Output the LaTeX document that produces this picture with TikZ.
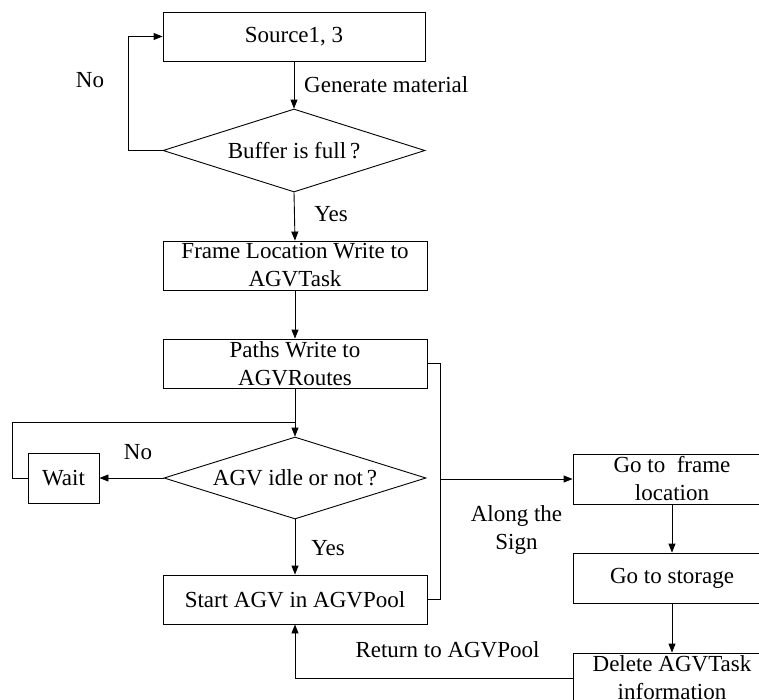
\documentclass[tikz,border=0pt]{standalone}
\usepackage{fontspec}
\setmainfont{Liberation Serif}
\usetikzlibrary{shapes.geometric,arrows.meta,calc}
\begin{document}
\begin{tikzpicture}[x=1pt,y=-1pt,
  every node/.style={font=\fontsize{23}{28}\selectfont},
  box/.style={draw,rectangle,inner sep=0pt,align=center,line width=0.9pt},
  dec/.style={draw,diamond,inner sep=0pt,shape aspect=3.16,line width=0.9pt},
  conn/.style={line width=0.9pt},
  arr/.style={conn,-{Triangle[length=9pt,width=7pt]}},
  lab/.style={inner sep=0pt,align=center}]
\useasboundingbox (0,0) rectangle (759,699);
\node[box,minimum width=262pt,minimum height=49pt] (src) at (294,36.5) {Source1, 3};
\node[dec,minimum width=262pt,minimum height=83pt] (buf) at (294,150.5) {Buffer is full\,?};
\node[box,minimum width=264pt,minimum height=49pt] (frame) at (295,265.5) {Frame Location Write to\\AGVTask};
\node[box,minimum width=264pt,minimum height=49pt] (paths) at (295,363.5) {Paths Write to\\AGVRoutes};
\node[dec,minimum width=262pt,minimum height=82pt] (agv) at (295,478) {AGV idle or not\,?};
\node[box,minimum width=71pt,minimum height=50pt] (wait) at (63.5,478) {Wait};
\node[box,minimum width=264pt,minimum height=49pt] (start) at (295,599.5) {Start AGV in AGVPool};
\node[box,minimum width=198pt,minimum height=50pt] (goto) at (672,479) {Go to\ \ frame\\location};
\node[box,minimum width=198pt,minimum height=50pt] (stor) at (672,578) {Go to storage};
\node[box,minimum width=198pt,minimum height=50pt] (del) at (672,678) {Delete AGVTask\\information};

\draw[arr] (src.south) -- (buf.north);
\draw[arr] (buf.west) -- ++(-34,0) |- (src.west);
\draw[arr] (buf.south) -- (frame.north);
\draw[arr] (frame.south) -- (paths.north);
\draw[arr] (paths.south) -- (agv.north);
\draw[arr] (agv.west) -- (wait.east);
\draw[conn] (wait.west) -- ++(-15,0) |- ($(agv.north)+(0,-14)$);
\draw[arr] (agv.south) -- (start.north);
\draw[conn] (paths.east) -- ++(13,0) coordinate (bustop) |- (start.east);
\coordinate (bus) at (bustop |- goto.west);
\draw[arr] (bus) -- (goto.west);
\draw[arr] (goto.south) -- (stor.north);
\draw[arr] (stor.south) -- (del.north);
\draw[arr] (del.west) -| (start.south);

\node[lab,anchor=west] (lgen) at (304,85) {Generate material};
\node[lab] (lno1) at (90,80) {No};
\node[lab] (lyes1) at (331,214) {Yes};
\node[lab] (lno2) at (138,452) {No};
\node[lab] (lyes2) at (328,548) {Yes};
\node[lab] (lalong) at (516.5,530) {Along the\\Sign};
\node[lab] (lret) at (447.5,650) {Return to AGVPool};
\end{tikzpicture}
\end{document}
